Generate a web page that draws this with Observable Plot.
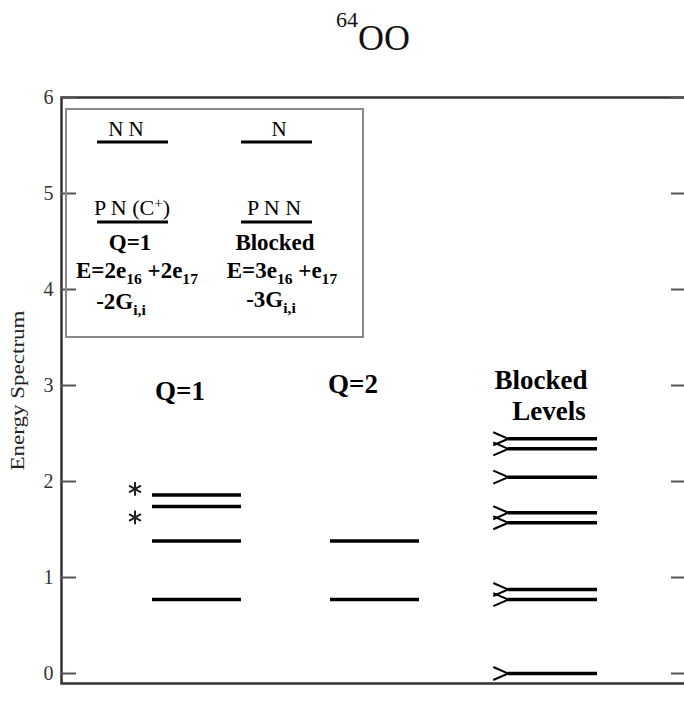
<!DOCTYPE html>
<html>
<head>
<meta charset="utf-8">
<script src="https://cdn.jsdelivr.net/npm/d3@7"></script>
<script src="https://cdn.jsdelivr.net/npm/@observablehq/plot@0.6"></script>
<style>
  body { margin: 0; background: #fff; overflow: hidden; font-family: "Liberation Serif", serif; }
  #wrap { position: relative; width: 684px; height: 706px; overflow: hidden; background: #fff; }
  #title { position: absolute; left: 336px; top: 20px; font-size: 36px; line-height: 36px; white-space: nowrap; color: #111; font-family: "Liberation Serif", serif; }
  #title .iso { font-size: 22px; position: relative; top: -23px; }
  #chart { position: absolute; left: 0; top: 75px; }
</style>
</head>
<body>
<div id="wrap">
  <div id="title"><span class="iso">64</span>OO</div>
  <div id="chart"></div>
</div>
<script>
// Level columns
const columns = ["Q=1", "Q=2", "Blocked"];

// Energy levels in each column
const q1Levels = [0.77, 1.38, 1.74, 1.86];
const q2Levels = [0.77, 1.38];
const blockedLevels = [0, 0.77, 0.875, 1.57, 1.675, 2.045, 2.34, 2.445];

// Q=1 levels flagged with an asterisk
const starAbove = [1.86];
const starBelow = [1.74];

// Y axis ticks
const yTicks = [0, 1, 2, 3, 4, 5, 6];

const levels = [
  ...q1Levels.map(E => ({column: "Q=1", E})),
  ...q2Levels.map(E => ({column: "Q=2", E})),
  ...blockedLevels.map(E => ({column: "Blocked", E}))
];

// Layout
const W = 700, H = 631;
const mL = 61, mR = 13, mT = 22, mB = 23;
const frameW = W - mL - mR;
const bandwidth = frameW / 3.5 / 2;   // band scale with padding 0.5
const serif = "Liberation Serif, Times New Roman, serif";

// ">" marker drawn at the left end of a blocked level
const chevron = {
  draw(context) {
    context.moveTo(-15, -6.5);
    context.lineTo(0, 0);
    context.lineTo(-15, 6.5);
  }
};

const heading = {frameAnchor: "top", lineAnchor: "middle", textAnchor: "middle", fontSize: 27, fontWeight: "bold", fontFamily: serif};
const star = {x: () => "Q=1", y: d => d, symbol: "asterisk", r: 6.5, stroke: "#222", strokeWidth: 2, dx: -62};

const chart = Plot.plot({
  width: W,
  height: H,
  marginLeft: mL,
  marginRight: mR,
  marginTop: mT,
  marginBottom: mB,
  style: {fontFamily: serif, background: "white", maxWidth: "none", overflow: "visible"},
  x: {type: "band", domain: columns, padding: 0.5, axis: null},
  y: {domain: [-0.104, 6]},
  marks: [
    Plot.frame({stroke: "#333", strokeWidth: 2.5}),
    // inward ticks on both sides
    Plot.tickY(yTicks, {y: d => d, stroke: "#555", strokeWidth: 2, insetRight: frameW - 15}),
    Plot.tickY(yTicks, {y: d => d, stroke: "#555", strokeWidth: 2, insetLeft: frameW - 16}),
    Plot.axisY(yTicks, {tickSize: 0, tickPadding: 8, fontSize: 20, fontFamily: serif, fill: "#333", tickFormat: d3.format("d"), label: null}),
    Plot.text(["Energy Spectrum"], {frameAnchor: "left", textAnchor: "middle", lineAnchor: "middle", text: d => d, rotate: -90, dx: -43, fontSize: 18, fontFamily: serif, fill: "#222"}),
    // energy levels
    Plot.tickY(levels, {x: "column", y: "E", stroke: "black", strokeWidth: 3.5}),
    Plot.dot(blockedLevels, {x: () => "Blocked", y: d => d, symbol: chevron, fill: "none", stroke: "black", strokeWidth: 2, dx: -bandwidth / 2}),
    Plot.dot(starAbove, {...star, dy: -6}),
    Plot.dot(starBelow, {...star, dy: 11}),
    // column headings
    Plot.text(["Q=1"], {x: d => d, text: d => d, dx: -17, dy: 294, ...heading}),
    Plot.text(["Q=2"], {x: d => d, text: d => d, dx: -22, dy: 287, ...heading}),
    Plot.text(["Blocked"], {x: d => d, text: () => "Blocked", dx: -12, dy: 283, ...heading}),
    Plot.text(["Blocked"], {x: d => d, text: () => "Levels", dx: -4, dy: 314, ...heading})
  ]
});

document.getElementById("chart").appendChild(chart);

const svg = d3.select(chart);

// stretch the axis title along the frame height
svg.selectAll("text").filter(function() { return this.textContent === "Energy Spectrum"; })
  .attr("textLength", 160).attr("lengthAdjust", "spacingAndGlyphs");

// Key box: configurations of the Q=1 and blocked states
const key = svg.append("g").attr("transform", "translate(0,-75)").attr("font-family", serif).attr("fill", "black");
key.append("rect").attr("x", 66).attr("y", 109).attr("width", 297).attr("height", 228)
  .attr("fill", "none").attr("stroke", "#888").attr("stroke-width", 2);

const bars = [[97, 168, 142], [241, 312, 142], [97, 168, 222], [241, 312, 222]];
bars.forEach(([x1, x2, y]) => key.append("line").attr("x1", x1).attr("x2", x2).attr("y1", y).attr("y2", y)
  .attr("stroke", "black").attr("stroke-width", 3));

function label(x, y, parts, size, weight) {
  const t = key.append("text").attr("x", x).attr("y", y).attr("text-anchor", "middle")
    .attr("font-size", size).attr("font-weight", weight);
  parts.forEach(([s, kind]) => {
    const sp = t.append("tspan").text(s);
    if (kind === "sub") sp.attr("font-size", size * 0.68).attr("baseline-shift", "-35%");
    if (kind === "sup") sp.attr("font-size", size * 0.68).attr("baseline-shift", "45%");
  });
}

label(126, 136, [["N N"]], 21, "normal");
label(279, 136, [["N"]], 21, "normal");
label(132, 215, [["P N (C"], ["+", "sup"], [")"]], 22, "normal");
label(274, 215, [["P N N"]], 22, "normal");
label(130, 250, [["Q=1"]], 23, "bold");
label(275, 250, [["Blocked"]], 23, "bold");
label(137, 278, [["E=2e"], ["16", "sub"], [" +2e"], ["17", "sub"]], 23, "bold");
label(282, 278, [["E=3e"], ["16", "sub"], [" +e"], ["17", "sub"]], 23, "bold");
label(121, 309, [["-2G"], ["i,i", "sub"]], 23, "bold");
label(271, 307, [["-3G"], ["i,i", "sub"]], 23, "bold");
</script>
</body>
</html>
